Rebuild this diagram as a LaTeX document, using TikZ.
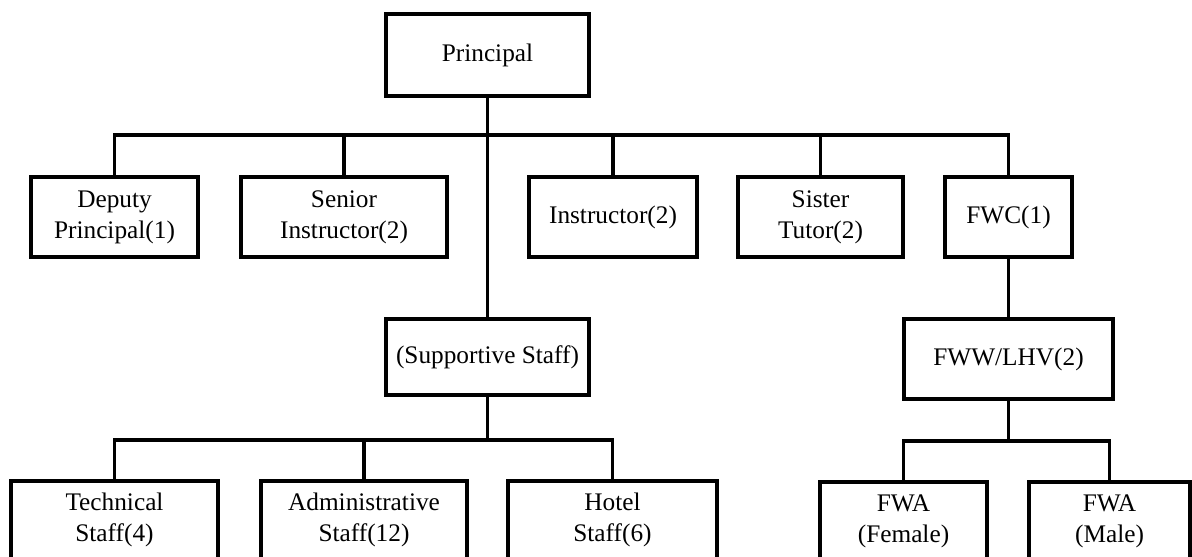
\documentclass[tikz,border=0pt]{standalone}
\usepackage{fontspec}
\setmainfont{Liberation Serif}
\usepackage{tikz}

\begin{document}
\begin{tikzpicture}[x=.02cm, y=-.02cm, line width=1.8pt,
             box/.style={draw, rectangle, inner sep=0pt, align=center,
                         font=\fontsize{14.4}{17.6}\selectfont}]
             \clip (0, 0) rectangle (1192, 556);

             \node[box, minimum width=203*.02cm, minimum height=82*.02cm] (principal) at (487.5, 55) {Principal};

             \node[box, minimum width=167*.02cm, minimum height=80*.02cm] (deputy) at (114.5, 217) {Deputy\\Principal(1)};
             \node[box, minimum width=206*.02cm, minimum height=80*.02cm] (senior) at (344, 217) {Senior\\Instructor(2)};
             \node[box, minimum width=168*.02cm, minimum height=80*.02cm] (instructor) at (613, 217) {Instructor(2)};
             \node[box, minimum width=165*.02cm, minimum height=80*.02cm] (sister) at (820.5, 217) {Sister\\Tutor(2)};
             \node[box, minimum width=127*.02cm, minimum height=80*.02cm] (fwc) at (1008.5, 217) {FWC(1)};

             \node[box, minimum width=203*.02cm, minimum height=76*.02cm] (support) at (487.5, 357) {(Supportive Staff)};
             \node[box, minimum width=209*.02cm, minimum height=80*.02cm] (fww) at (1008.5, 359) {FWW/LHV(2)};

             \node[box, minimum width=207*.02cm, minimum height=78*.02cm] (technical) at (114.5, 520) {Technical\\Staff(4)};
             \node[box, minimum width=206*.02cm, minimum height=78*.02cm] (admin) at (364, 520) {Administrative\\Staff(12)};
             \node[box, minimum width=209*.02cm, minimum height=78*.02cm] (hotel) at (612.5, 520) {Hotel\\Staff(6)};
             \node[box, minimum width=167*.02cm, minimum height=78*.02cm] (female) at (903.5, 521) {FWA\\(Female)};
             \node[box, minimum width=161*.02cm, minimum height=78*.02cm] (male) at (1109.5, 521) {FWA\\(Male)};

             % bus lines
             \coordinate (bustop) at (principal.center |- 0, 135);
             \coordinate (busmid) at (support.center |- 0, 440);
             \coordinate (busfww) at (fww.center |- 0, 441);

             \draw (principal) -- (support);
             \draw (deputy.north) |- (bustop);
             \draw (senior.north) |- (bustop);
             \draw (instructor.north) |- (bustop);
             \draw (sister.north) |- (bustop);
             \draw (fwc.north) |- (bustop);

             \draw (fwc) -- (fww);

             \draw (support) -- (busmid);
             \draw (technical.north) |- (busmid);
             \draw (admin.north) |- (busmid);
             \draw (hotel.north) |- (busmid);

             \draw (fww) -- (busfww);
             \draw (female.north) |- (busfww);
             \draw (male.north) |- (busfww);
\end{tikzpicture}
\end{document}
